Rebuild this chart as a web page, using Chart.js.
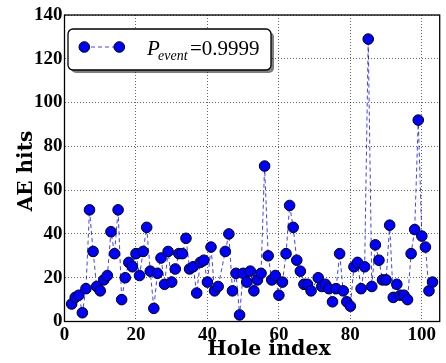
<!DOCTYPE html>
<html>
<head>
<meta charset="utf-8">
<script src="https://cdn.jsdelivr.net/npm/chart.js@4.4.1/dist/chart.umd.min.js"></script>
<style>
  body { margin: 0; background: #fff; }
  canvas { display: block; }
</style>
</head>
<body>
<canvas id="chart" width="446" height="363"></canvas>
<script>
// hole numbers (44 and 70 are not in the plot)
var holeIndex = [2,3,4,5,6,7,8,9,10,11,12,13,14,15,16,17,18,19,20,21,22,23,24,25,26,27,28,29,30,31,32,33,34,35,36,37,38,39,40,41,42,43,
  45,46,47,48,49,50,51,52,53,54,55,56,57,58,59,60,61,62,63,64,65,66,67,68,69,
  71,72,73,74,75,76,77,78,79,80,81,82,83,84,85,86,87,88,89,90,91,92,93,94,95,96,97,98,99,100,101,102,103];
var aeHits = [8,11,12,4,15,51,32,16,14,19,21,41,31,51,10,20,27,25,31,21,32,43,23,6,22,29,17,32,18,24,31,31,38,24,25,13,27,28,18,34,14,16,
  32,40,14,22,3,22,18,23,14,19,22,71,30,19,21,12,18,31,53,43,28,23,17,17,14,
  20,16,17,15,9,15,31,14,9,7,25,27,15,25,129,16,35,28,19,19,44,11,17,12,12,10,31,42,92,39,34,14,18];

var xTicks = [0, 20, 40, 60, 80, 100];
var yTicks = [0, 20, 40, 60, 80, 100, 120, 140];
var xTitle = 'Hole index';
var yTitle = 'AE hits';
var legendSymbol = 'P';
var legendSub = 'event';
var legendValue = '=0.9999';

var points = holeIndex.map(function (h, i) { return { x: h, y: aeHits[i] }; });

var tickFont = { family: '"Liberation Serif"', size: 19, weight: 'bold' };

// frame, axis titles and the legend box
var decorations = {
  id: 'decorations',
  afterDatasetsDraw: function (chart) {
    var ctx = chart.ctx, a = chart.chartArea;
    ctx.save();
    ctx.strokeStyle = '#000';
    ctx.lineWidth = 1.3;
    ctx.strokeRect(a.left, a.top, a.right - a.left, a.bottom - a.top);
    ctx.restore();
  },
  afterDraw: function (chart) {
    var ctx = chart.ctx;
    ctx.save();
    ctx.fillStyle = '#000';
    ctx.font = 'bold 20.5px "DejaVu Serif"';
    ctx.textAlign = 'center';
    ctx.textBaseline = 'alphabetic';
    ctx.fillText(xTitle, 269, 355);

    ctx.save();
    ctx.translate(31.5, 171);
    ctx.rotate(-Math.PI / 2);
    ctx.font = 'bold 20px "DejaVu Serif"';
    ctx.fillText(yTitle, 0, 0);
    ctx.restore();

    // legend
    ctx.fillStyle = 'rgba(0,0,0,0.5)';
    ctx.beginPath();
    ctx.roundRect(71, 32, 203, 41, 5);
    ctx.fill();
    ctx.fillStyle = '#fff';
    ctx.strokeStyle = '#000';
    ctx.lineWidth = 1.3;
    ctx.beginPath();
    ctx.roundRect(68, 29, 203, 41, 5);
    ctx.fill();
    ctx.stroke();

    var ds = chart.data.datasets[0];
    ctx.strokeStyle = ds.borderColor;
    ctx.lineWidth = ds.borderWidth;
    ctx.setLineDash(ds.borderDash);
    ctx.beginPath();
    ctx.moveTo(84, 47);
    ctx.lineTo(119, 47);
    ctx.stroke();
    ctx.setLineDash([]);
    [84.3, 119.3].forEach(function (cx) {
      ctx.beginPath();
      ctx.arc(cx, 47, ds.pointRadius, 0, Math.PI * 2);
      ctx.fillStyle = ds.pointBackgroundColor;
      ctx.fill();
      ctx.strokeStyle = ds.pointBorderColor;
      ctx.lineWidth = ds.pointBorderWidth;
      ctx.stroke();
    });

    ctx.fillStyle = '#000';
    ctx.textAlign = 'left';
    ctx.font = 'italic 21px "Liberation Serif"';
    ctx.fillText(legendSymbol, 147, 55);
    ctx.font = 'italic 14px "Liberation Serif"';
    ctx.fillText(legendSub, 158, 59.5);
    ctx.font = '21px "Liberation Serif"';
    ctx.fillText(legendValue, 190, 55);
    ctx.restore();
  }
};

new Chart(document.getElementById('chart'), {
  type: 'line',
  data: {
    datasets: [{
      label: 'P_event =0.9999',
      data: points,
      borderColor: 'rgba(0,0,255,0.75)',
      borderWidth: 1,
      borderDash: [4, 3],
      tension: 0,
      fill: false,
      pointRadius: 5.3,
      pointBorderWidth: 1,
      pointBackgroundColor: '#0000ff',
      pointBorderColor: '#000'
    }]
  },
  options: {
    responsive: false,
    animation: false,
    layout: { padding: { top: 15, right: 1.5, left: 0, bottom: 0 } },
    plugins: { legend: { display: false }, tooltip: { enabled: false } },
    scales: {
      x: {
        type: 'linear',
        min: 0,
        max: 105,
        afterFit: function (scale) { scale.height = 41.5; },
        afterBuildTicks: function (scale) { scale.ticks = xTicks.map(function (v) { return { value: v }; }); },
        ticks: { font: tickFont, color: '#000', padding: 2, maxRotation: 0 },
        grid: { color: 'rgba(0,0,0,0.6)', lineWidth: 1, drawTicks: false, borderDash: [1, 2] },
        border: { display: false, dash: [1, 2] }
      },
      y: {
        min: 0,
        max: 140,
        afterFit: function (scale) { scale.width = 64.5; },
        afterBuildTicks: function (scale) { scale.ticks = yTicks.map(function (v) { return { value: v }; }); },
        ticks: { font: tickFont, color: '#000', padding: 2 },
        grid: { color: 'rgba(0,0,0,0.6)', lineWidth: 1, drawTicks: false, borderDash: [1, 2] },
        border: { display: false, dash: [1, 2] }
      }
    }
  },
  plugins: [decorations]
});
</script>
</body>
</html>
